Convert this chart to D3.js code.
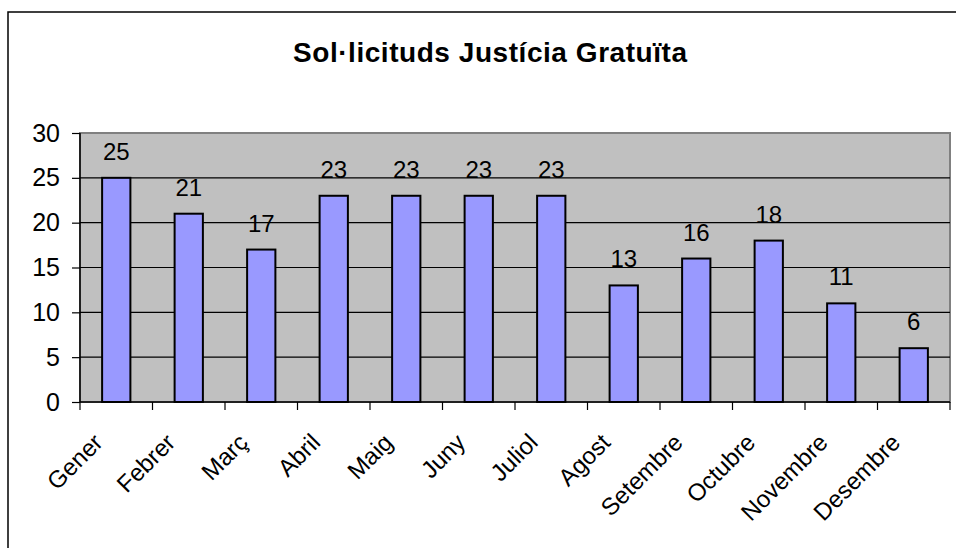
<!DOCTYPE html>
<html><head><meta charset="utf-8">
<script src="https://cdn.jsdelivr.net/npm/d3@7"></script>
<style>body{margin:0;background:#fff}svg{display:block;font-family:Arial,"Liberation Sans",sans-serif}</style>
</head><body>
<script>
const title = "Sol·licituds Justícia Gratuïta";
const months = ["Gener","Febrer","Març","Abril","Maig","Juny","Juliol","Agost","Setembre","Octubre","Novembre","Desembre"];
const values = [25,21,17,23,23,23,23,13,16,18,11,6];
const yTicks = [0,5,10,15,20,25,30];

const W = 956, H = 548;
const svg = d3.select("body").append("svg").attr("width", W).attr("height", H);

svg.append("rect").attr("x",8).attr("y",12).attr("width",W+20).attr("height",H+20)
  .attr("fill","#fff").attr("stroke","#000").attr("stroke-width",1.5);

const L = 80, R = 950, T = 133, B = 402;
const x = d3.scaleBand().domain(months).range([L,R]).paddingInner(0.61).paddingOuter(0.305);
const xb = d3.scaleBand().domain(months).range([L,R]);
const y = d3.scaleLinear().domain([0,30]).range([B,T]);

svg.append("rect").attr("x",L).attr("y",T).attr("width",R-L).attr("height",B-T)
  .attr("fill","#C0C0C0").attr("stroke","#808080").attr("stroke-width",2);

svg.append("g").selectAll("line").data(yTicks.filter(d=>d>0 && d<30)).join("line")
  .attr("x1",L).attr("x2",R).attr("y1",d=>y(d)).attr("y2",d=>y(d))
  .attr("stroke","#000").attr("stroke-width",1.2);

svg.append("g").selectAll("rect").data(values).join("rect")
  .attr("x",(d,i)=>x(months[i])).attr("width",x.bandwidth())
  .attr("y",d=>y(d)).attr("height",d=>B-y(d))
  .attr("fill","#9999FF").attr("stroke","#000").attr("stroke-width",2);

svg.append("g").selectAll("text").data(values).join("text")
  .attr("x",(d,i)=>xb(months[i])+xb.bandwidth()/2).attr("y",d=>y(d)-18)
  .attr("text-anchor","middle").attr("font-size",24).attr("fill","#000").text(d=>d);

const ya = svg.append("g").attr("transform",`translate(${L},0)`)
  .call(d3.axisLeft(y).tickValues(yTicks).tickSize(8).tickPadding(12));
ya.select(".domain").attr("stroke","#000").attr("stroke-width",1.5).attr("d",`M0,${T}V${B}`);
ya.selectAll(".tick line").attr("stroke","#000").attr("stroke-width",1.2);
ya.selectAll(".tick text").attr("font-size",25).attr("font-family","Arial, 'Liberation Sans', sans-serif").attr("fill","#000");

const xa = svg.append("g").attr("transform",`translate(0,${B})`)
  .call(d3.axisBottom(xb).tickSize(0).tickFormat(""));
xa.select(".domain").attr("stroke","#000").attr("stroke-width",1.5).attr("d",`M${L},0H${R}`);
const bounds = months.map(m=>xb(m)).concat([R]);
xa.selectAll(".sep").data(bounds).join("line").attr("class","sep")
  .attr("x1",d=>d).attr("x2",d=>d).attr("y1",0).attr("y2",8)
  .attr("stroke","#000").attr("stroke-width",1.2);

svg.append("g").selectAll("text").data(months).join("text")
  .attr("transform",m=>`translate(${xb(m)+xb.bandwidth()/2-12},${444}) rotate(-45)`)
  .attr("text-anchor","end").attr("font-size",24).attr("fill","#000").text(m=>m);

svg.append("text").attr("x",490).attr("y",62).attr("text-anchor","middle")
  .attr("font-size",28).attr("font-weight","bold").attr("fill","#000")
  .attr("textLength",394).attr("lengthAdjust","spacing").text(title);
</script>
</body></html>
